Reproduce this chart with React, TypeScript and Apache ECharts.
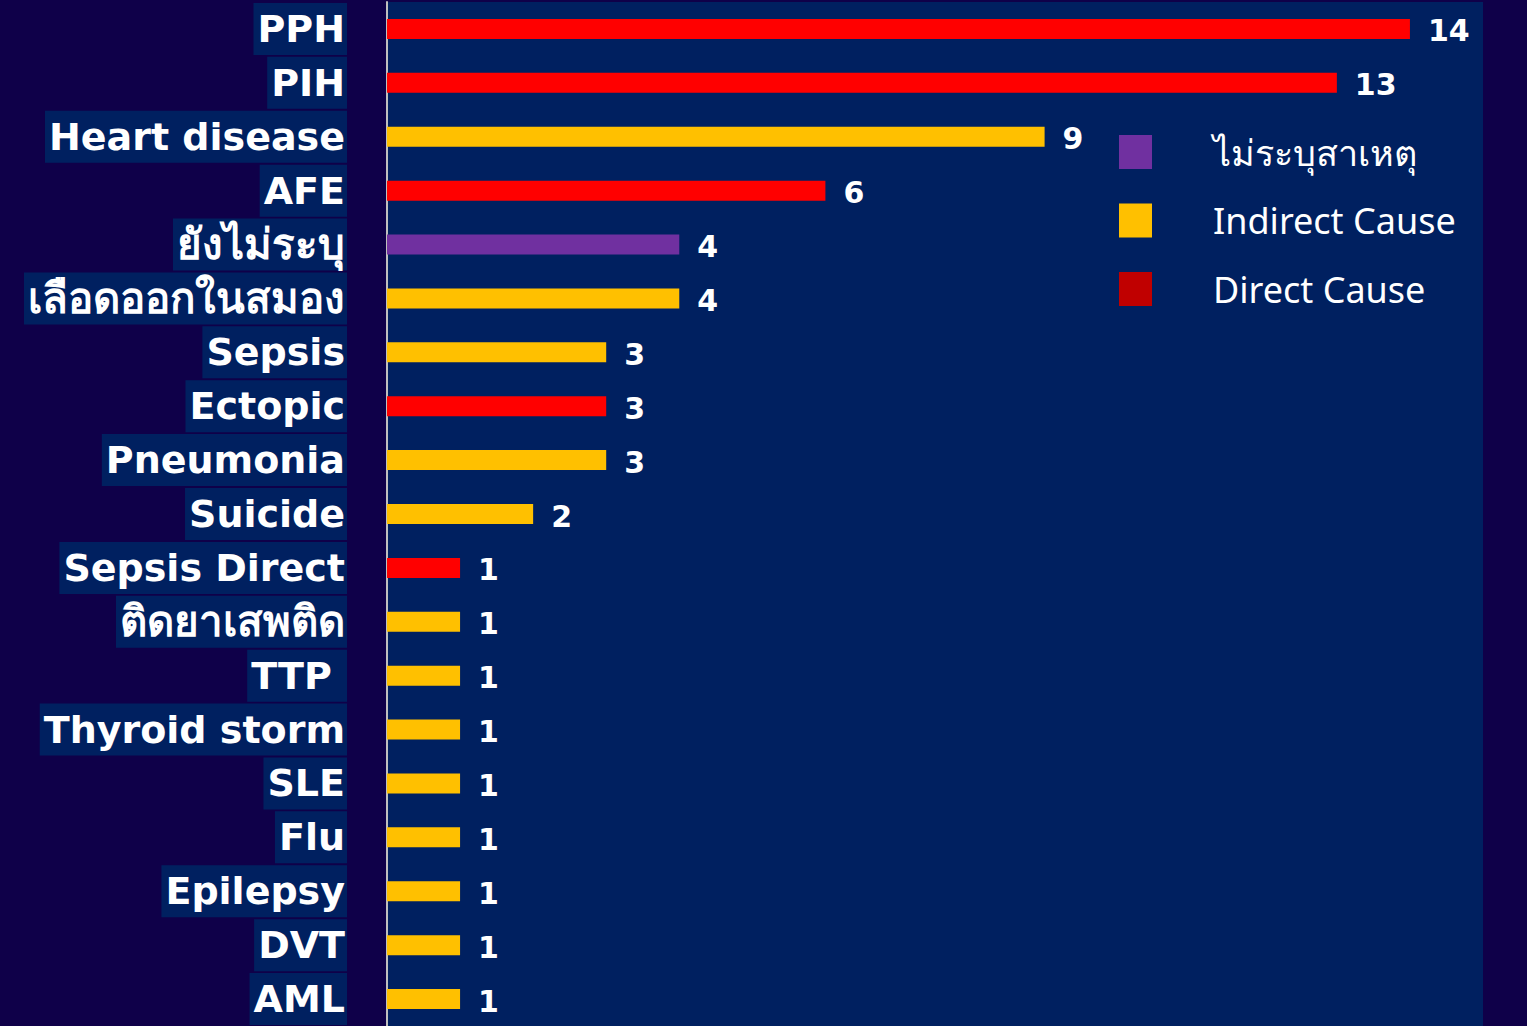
import React, { useEffect, useRef } from "react";
import * as echarts from "echarts";

const categories = [
  "PPH", "PIH", "Heart disease", "AFE", "ยังไม่ระบุ", "เลือดออกในสมอง", "Sepsis", "Ectopic",
  "Pneumonia", "Suicide", "Sepsis Direct", "ติดยาเสพติด", "TTP ", "Thyroid storm", "SLE",
  "Flu", "Epilepsy", "DVT", "AML",
];
const values = [14, 13, 9, 6, 4, 4, 3, 3, 3, 2, 1, 1, 1, 1, 1, 1, 1, 1, 1];
const causeType = ["D", "D", "I", "D", "U", "I", "I", "D", "I", "I", "D", "I", "I", "I", "I", "I", "I", "I", "I"];
const seriesNames = ["ไม่ระบุสาเหตุ", "Indirect Cause", "Direct Cause"];
const seriesKeys = ["U", "I", "D"];
const barColors = ["#7030a0", "#ffc000", "#ff0000"];
const legendColors = ["#7030a0", "#ffc000", "#c00000"];

export default function App() {
  const ref = useRef<HTMLDivElement>(null);
  useEffect(() => {
    if (!ref.current) return;
    const chart = echarts.init(ref.current, null, { renderer: "svg" });
    const boldFont = "'DejaVu Sans', Verdana, Tahoma, sans-serif";
    chart.setOption({
      animation: false,
      backgroundColor: "#0f0049",
      legend: {
        orient: "vertical",
        left: 1114,
        top: 129,
        itemWidth: 33,
        itemHeight: 34,
        itemGap: 32.5,
        icon: "rect",
        data: seriesNames.map((n, i) => ({ name: n, itemStyle: { color: legendColors[i] } })),
        textStyle: {
          color: "#ffffff",
          fontSize: 36,
          fontFamily: "'Noto Sans', 'Open Sans', Tahoma, sans-serif",
          padding: [0, 0, 0, 56],
        },
      },
      grid: {
        left: 387,
        right: 44,
        top: 2,
        bottom: -4,
        show: true,
        backgroundColor: "#002060",
        borderWidth: 0,
        containLabel: false,
      },
      xAxis: {
        type: "value",
        min: 0,
        max: 15,
        show: false,
      },
      yAxis: {
        type: "category",
        inverse: true,
        data: categories,
        axisLine: { show: true, lineStyle: { color: "#bfbfbf", width: 2 } },
        axisTick: { show: false },
        axisLabel: {
          margin: 40,
          color: "#ffffff",
          fontSize: 38,
          fontWeight: "bold",
          fontFamily: boldFont,
          backgroundColor: "#002060",
          padding: [2, 2, 2, 4],
          lineHeight: 48,
          formatter: (v: string) => (/[\u0E00-\u0E7F]/.test(v) ? `{th|${v}}` : v),
          rich: {
            th: {
              fontSize: 42,
              fontWeight: "bold",
              fontFamily: boldFont,
              color: "#ffffff",
              lineHeight: 48,
            },
          },
        },
      },
      series: seriesKeys.map((k, si) => ({
        name: seriesNames[si],
        type: "bar",
        barWidth: 20,
        barGap: "-100%",
        itemStyle: { color: barColors[si] },
        label: {
          show: true,
          position: "right",
          distance: 18,
          color: "#ffffff",
          fontSize: 30,
          fontWeight: "bold",
          fontFamily: boldFont,
          offset: [0, 2],
        },
        data: values.map((v, i) => (causeType[i] === k ? v : null)),
      })),
    });
    return () => chart.dispose();
  }, []);
  return <div ref={ref} style={{ width: 1527, height: 1026, position: "absolute", left: 0, top: 0 }} />;
}
